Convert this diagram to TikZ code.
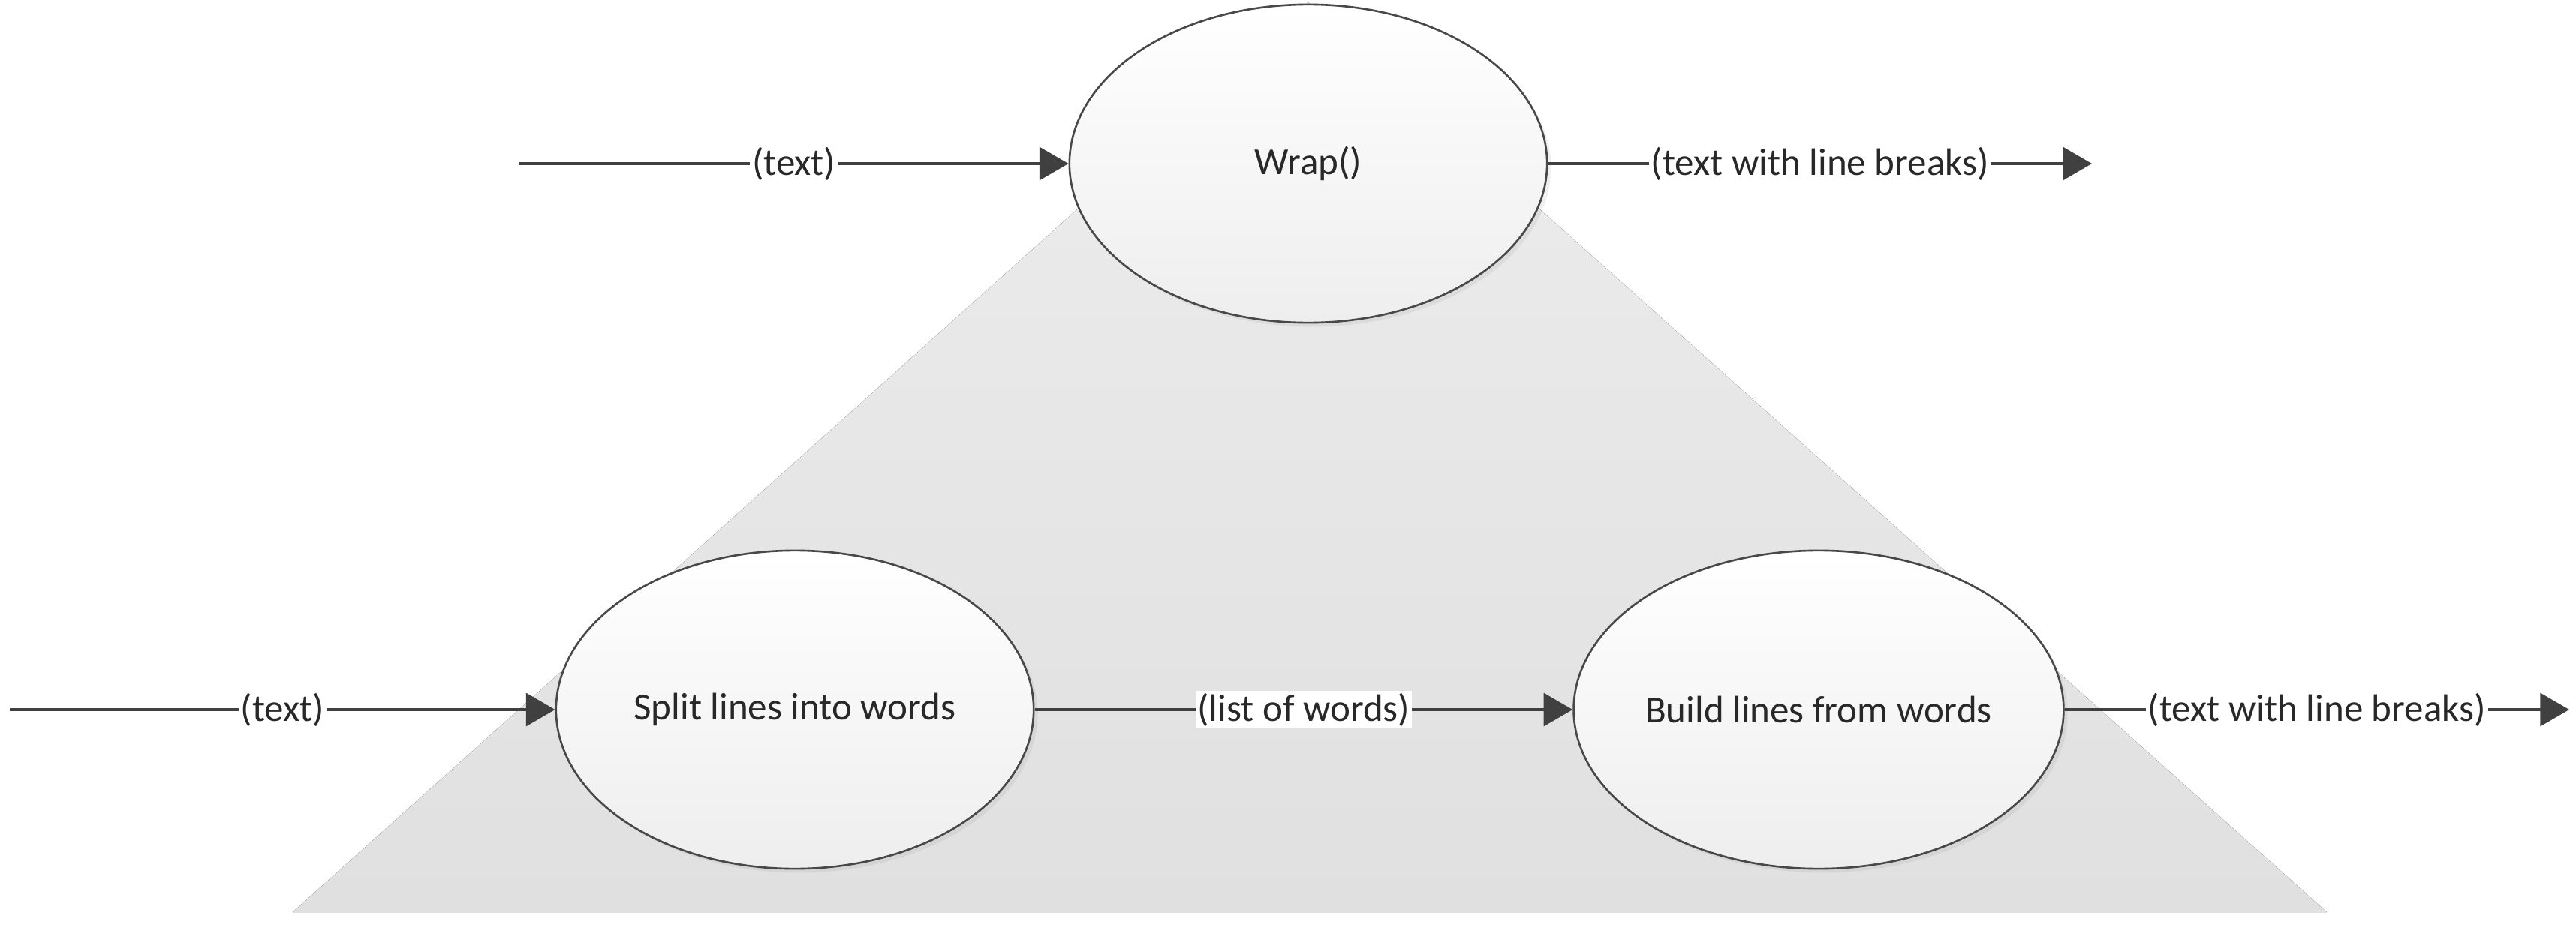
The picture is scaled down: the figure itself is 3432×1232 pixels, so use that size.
\documentclass[tikz,border=0pt]{standalone}
\usepackage{fontspec}
\setmainfont{Carlito}
\usetikzlibrary{arrows.meta,positioning,shapes.geometric,shadows}
\definecolor{linecol}{RGB}{64,64,64}
\definecolor{edgecol}{RGB}{72,72,72}
\definecolor{txtcol}{RGB}{40,40,40}
\definecolor{tritop}{RGB}{237,237,237}
\definecolor{tribot}{RGB}{224,224,224}
\definecolor{proctop}{RGB}{255,255,255}
\definecolor{procbot}{RGB}{238,238,238}
\def\procwd{6.36cm}
\def\procht{4.24cm}
\tikzset{
  proc/.style      = {ellipse, minimum width=\procwd, minimum height=\procht, inner sep=0pt,
                      draw=edgecol, line width=0.75pt, top color=proctop, bottom color=procbot,
                      font=\fontsize{14.5}{17}\selectfont, text=txtcol,
                      drop shadow={opacity=0.12, shadow xshift=1.5pt, shadow yshift=-1.5pt}},
  flow/.style      = {-{Triangle[length=11pt,width=12.5pt]}, line width=1pt, draw=linecol},
  flowlabel/.style = {fill=white, inner sep=0.8pt, font=\fontsize{14.5}{17}\selectfont, text=txtcol}
}

\begin{document}
\begin{tikzpicture}[x=0.01cm,y=0.01cm]
\useasboundingbox (0,0) rectangle (3432,1232);

% grey triangle behind the three functions
\fill[top color=tritop, bottom color=tribot] (390,16) -- (1743,1229) -- (3100,16) -- cycle;

% --- top level ---
\node[proc] (wrap) at (1743,1014) {Wrap()};
\coordinate (topin)  at (692,1014);
\coordinate (topout) at (2787,1014);

% --- lower level ---
\node[proc] (split) at (1059,286) {Split lines into words};
\node[proc] (build) at (2423,286) {Build lines from words};
\coordinate (botin)  at (13,286);
\coordinate (botout) at (3423,286);

% --- connections ---
\draw[flow] (topin) -- node[flowlabel] {(text)} (wrap);
\draw[flow] (wrap) -- node[flowlabel] {(text with line breaks)} (topout);
\draw[flow] (botin) -- node[flowlabel] {(text)} (split);
\draw[flow] (split) -- node[flowlabel] {(list of words)} (build);
\draw[flow] (build) -- node[flowlabel] {(text with line breaks)} (botout);

\end{tikzpicture}
\end{document}
